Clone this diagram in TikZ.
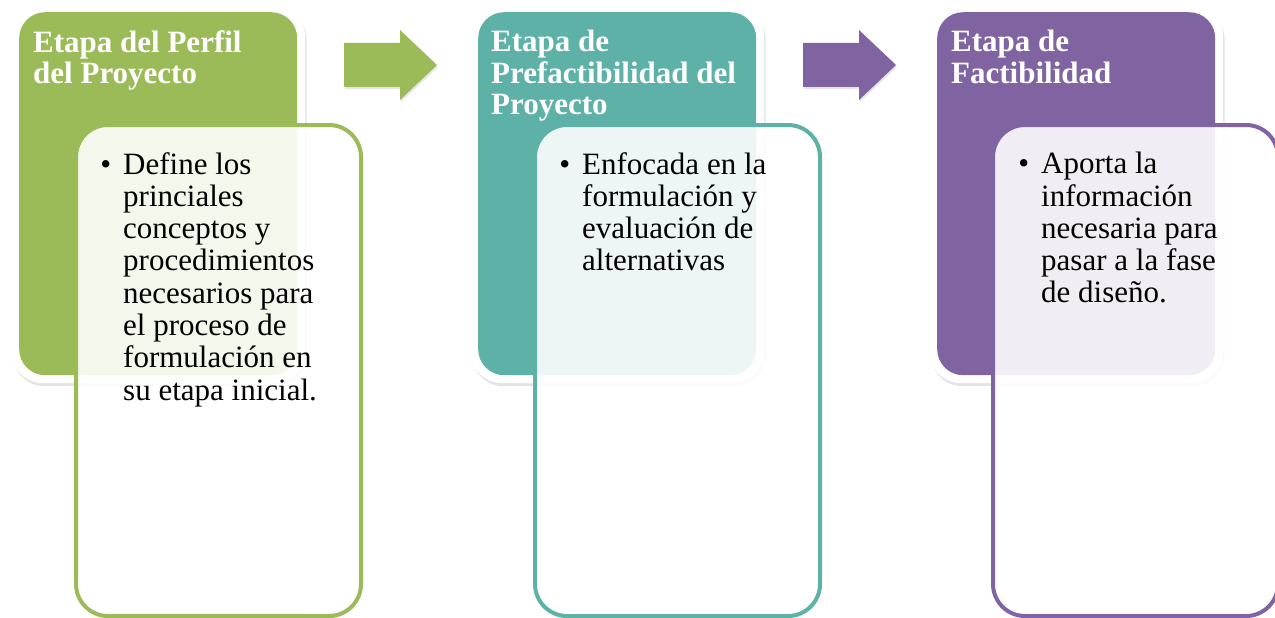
\documentclass[tikz,border=0pt]{standalone}
\usepackage{fontspec}
\setmainfont{Liberation Serif}
\usetikzlibrary{shadows}
\definecolor{cgreen}{HTML}{9BBB59}
\definecolor{cteal}{HTML}{5DB1A7}
\definecolor{cpurple}{HTML}{8064A2}
\tikzset{
  frame/.style={fill=white, draw=none, rounded corners=32pt, anchor=north west,
    minimum width=294pt, minimum height=378pt, inner sep=0pt,
    drop shadow={opacity=0.22, shadow xshift=1.5pt, shadow yshift=-3pt}},
  head/.style={fill=#1, draw=none, rounded corners=26pt, anchor=north west,
    minimum width=278pt, minimum height=363pt, inner sep=0pt},
  panel/.style={draw=#1, line width=4pt, fill=white, fill opacity=0.89,
    rounded corners=32pt, anchor=north west, minimum width=285pt,
    minimum height=491pt, inner sep=0pt},
  headtext/.style={anchor=north west, inner sep=0pt, align=left, text=white,
    font=\fontsize{31}{31.5}\selectfont\bfseries},
  bodytext/.style={anchor=north west, inner sep=0pt, align=left, text=black,
    font=\fontsize{31}{32.3}\selectfont},
  bigarrow/.style={fill=#1, draw=none,
    drop shadow={opacity=0.2, shadow xshift=1pt, shadow yshift=-2pt}}
}
\newcommand{\bul}{\llap{\textbullet\hspace{12pt}}}
\begin{document}
\begin{tikzpicture}[x=1pt,y=-1pt]
\useasboundingbox (0,0) rectangle (1275,618);
% stage 1
\node[frame] (f1) at (11,5) {};
\node[head=cgreen] (h1) at (19,12) {};
% stage 2
\node[frame] (f2) at (470,5) {};
\node[head=cteal] (h2) at (478,12) {};
% stage 3
\node[frame] (f3) at (929,5) {};
\node[head=cpurple] (h3) at (937,12) {};
% arrows
\fill[bigarrow=cgreen] (344,43) -- (400,43) -- (400,30) -- (437,65) -- (400,100) -- (400,87) -- (344,87) -- cycle;
\fill[bigarrow=cpurple] (803,43) -- (859,43) -- (859,30) -- (896,65) -- (859,100) -- (859,87) -- (803,87) -- cycle;
% panels
\node[panel=cgreen] (p1) at (74,123) {};
\node[panel=cteal] (p2) at (533,123) {};
\node[panel=cpurple] (p3) at (991,123) {};
% header texts
\node[headtext] (t1) at (33,30) {Etapa del Perfil\\del Proyecto};
\node[headtext] (t2) at (491,30) {Etapa de\\Prefactibilidad del\\Proyecto};
\node[headtext] (t3) at (951,30) {Etapa de\\Factibilidad};
% body texts
\node[bodytext] (b1) at (123,152) {\bul Define los\\princiales\\conceptos y\\procedimientos\\necesarios para\\el proceso de\\formulación en\\su etapa inicial.};
\node[bodytext] (b2) at (582,152) {\bul Enfocada en la\\formulación y\\evaluación de\\alternativas};
\node[bodytext] (b3) at (1041,152) {\bul Aporta la\\información\\necesaria para\\pasar a la fase\\de diseño.};
\end{tikzpicture}
\end{document}
